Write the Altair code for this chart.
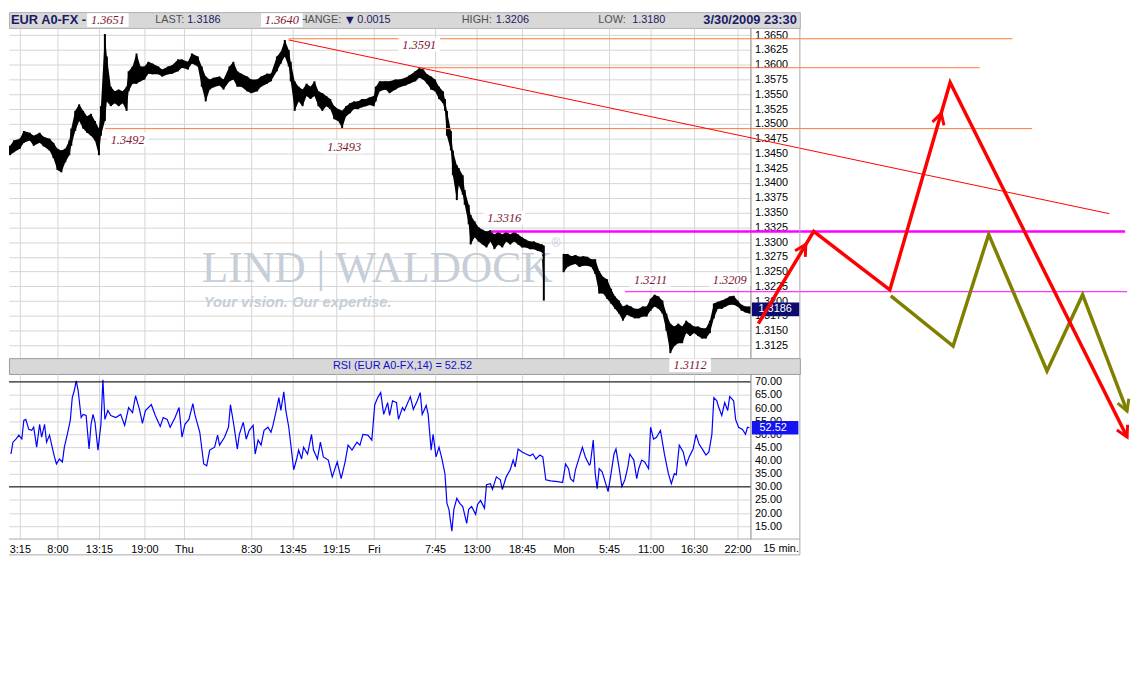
import altair as alt
import pandas as pd

SANS = "Liberation Sans"
SERIF = "Liberation Serif"

# ---------------- price bars (15-min bar index, high, low) ----------------
bar_i = [-5, -3, 0, 2, 5, 7, 10, 12, 15, 17,
         19, 21, 23, 25, 26, 28, 30, 32, 34, 36,
         38, 40, 41, 43, 44, 46, 48, 50, 52, 54,
         55, 57, 59, 61, 63, 65, 67, 70, 72, 75,
         77, 80, 82, 85, 87, 90, 92, 94, 96, 98,
         101, 103, 106, 108, 110, 112, 115, 117, 120, 122,
         125, 127, 130, 132, 134, 136, 137, 139, 141, 143,
         145, 147, 149, 151, 153, 155, 157, 159, 161, 163,
         165, 167, 169, 171, 173, 175, 177, 179, 180, 182,
         185, 187, 190, 192, 195, 197, 200, 202, 204, 206,
         208, 210, 212, 214, 215, 216, 218, 219, 221, 222,
         224, 225, 227, 228, 230, 232, 234, 236, 238, 240,
         242, 244, 246, 248, 250, 252, 254, 256, 258, 260,
         262, 264, 265, 275, 277, 279, 281, 283, 285, 287,
         289, 291, 293, 295, 297, 299, 301, 303, 305, 307,
         309, 311, 313, 315, 317, 319, 321, 323, 325, 327,
         329, 331, 333, 335, 337, 339, 341, 343, 345, 347,
         349, 351, 353, 355, 357, 359, 361, 363, 365, 367,
         369]
bar_hi = [1.3463, 1.3472, 1.3475, 1.3488, 1.3485, 1.3480, 1.3485, 1.3478, 1.3475, 1.3468,
          1.3458, 1.3455, 1.3458, 1.3472, 1.3492, 1.3522, 1.3533, 1.3522, 1.3513, 1.3517,
          1.3505, 1.3492, 1.3530, 1.3652, 1.3614, 1.3563, 1.3555, 1.3558, 1.3555, 1.3563,
          1.3589, 1.3597, 1.3619, 1.3597, 1.3597, 1.3605, 1.3602, 1.3597, 1.3592, 1.3597,
          1.3599, 1.3609, 1.3609, 1.3605, 1.3619, 1.3614, 1.3597, 1.3580, 1.3575, 1.3578,
          1.3580, 1.3575, 1.3597, 1.3605, 1.3589, 1.3585, 1.3580, 1.3575, 1.3575, 1.3580,
          1.3585, 1.3585, 1.3614, 1.3622, 1.3642, 1.3625, 1.3605, 1.3572, 1.3563, 1.3558,
          1.3568, 1.3563, 1.3572, 1.3555, 1.3552, 1.3547, 1.3542, 1.3530, 1.3525, 1.3522,
          1.3530, 1.3535, 1.3538, 1.3538, 1.3542, 1.3542, 1.3545, 1.3547, 1.3563, 1.3572,
          1.3572, 1.3572, 1.3575, 1.3575, 1.3578, 1.3582, 1.3589, 1.3594, 1.3592, 1.3584,
          1.3580, 1.3575, 1.3563, 1.3555, 1.3542, 1.3522, 1.3488, 1.3455, 1.3430, 1.3425,
          1.3413, 1.3388, 1.3363, 1.3346, 1.3335, 1.3325, 1.3321, 1.3318, 1.3320, 1.3313,
          1.3318, 1.3313, 1.3318, 1.3313, 1.3318, 1.3313, 1.3308, 1.3304, 1.3301, 1.3301,
          1.3298, 1.3296, 1.3294, 1.3280, 1.3280, 1.3276, 1.3278, 1.3275, 1.3276, 1.3275,
          1.3271, 1.3271, 1.3251, 1.3241, 1.3237, 1.3221, 1.3208, 1.3201, 1.3191, 1.3194,
          1.3191, 1.3187, 1.3187, 1.3191, 1.3191, 1.3204, 1.3211, 1.3208, 1.3201, 1.3179,
          1.3162, 1.3157, 1.3162, 1.3157, 1.3167, 1.3162, 1.3157, 1.3157, 1.3154, 1.3154,
          1.3167, 1.3196, 1.3199, 1.3201, 1.3204, 1.3208, 1.3209, 1.3201, 1.3194, 1.3191,
          1.3191]
bar_lo = [1.3447, 1.3452, 1.3458, 1.3468, 1.3472, 1.3463, 1.3468, 1.3462, 1.3455, 1.3442,
          1.3422, 1.3418, 1.3435, 1.3447, 1.3463, 1.3488, 1.3505, 1.3492, 1.3485, 1.3480,
          1.3472, 1.3447, 1.3480, 1.3505, 1.3538, 1.3530, 1.3535, 1.3530, 1.3535, 1.3522,
          1.3555, 1.3568, 1.3568, 1.3572, 1.3575, 1.3585, 1.3584, 1.3584, 1.3580, 1.3584,
          1.3585, 1.3589, 1.3595, 1.3592, 1.3602, 1.3597, 1.3563, 1.3538, 1.3558, 1.3562,
          1.3565, 1.3558, 1.3572, 1.3575, 1.3563, 1.3563, 1.3555, 1.3552, 1.3555, 1.3563,
          1.3568, 1.3572, 1.3589, 1.3602, 1.3614, 1.3597, 1.3572, 1.3522, 1.3538, 1.3530,
          1.3547, 1.3542, 1.3547, 1.3530, 1.3522, 1.3530, 1.3525, 1.3508, 1.3505, 1.3493,
          1.3513, 1.3518, 1.3525, 1.3525, 1.3528, 1.3530, 1.3532, 1.3530, 1.3538, 1.3555,
          1.3558, 1.3552, 1.3558, 1.3562, 1.3565, 1.3568, 1.3572, 1.3578, 1.3575, 1.3568,
          1.3558, 1.3555, 1.3542, 1.3535, 1.3522, 1.3480, 1.3455, 1.3413, 1.3371, 1.3396,
          1.3380, 1.3363, 1.3330, 1.3296, 1.3308, 1.3301, 1.3296, 1.3291, 1.3301, 1.3288,
          1.3296, 1.3291, 1.3301, 1.3296, 1.3301, 1.3296, 1.3291, 1.3291, 1.3288, 1.3288,
          1.3285, 1.3283, 1.3201, 1.3249, 1.3258, 1.3261, 1.3263, 1.3258, 1.3260, 1.3260,
          1.3258, 1.3246, 1.3213, 1.3213, 1.3204, 1.3196, 1.3187, 1.3179, 1.3167, 1.3177,
          1.3174, 1.3171, 1.3171, 1.3174, 1.3174, 1.3184, 1.3191, 1.3187, 1.3179, 1.3150,
          1.3112, 1.3124, 1.3129, 1.3129, 1.3146, 1.3141, 1.3146, 1.3141, 1.3137, 1.3137,
          1.3146, 1.3171, 1.3187, 1.3187, 1.3191, 1.3194, 1.3194, 1.3191, 1.3184, 1.3181,
          1.3179]

# ---------------- RSI(14) ----------------
rsi_i = [-4.5, -3.5, -2, -0.5, 1, 2, 3, 4.5, 6, 7,
         8.5, 10, 11, 12.5, 13.5, 15, 16, 17.5, 18.5, 20,
         21.5, 22.5, 24, 25.5, 26.5, 27.5, 28.5, 29.5, 31, 32,
         33.5, 35, 36, 37, 38, 39.5, 41, 42, 43, 44.5,
         46, 48.5, 51, 53, 55, 57, 58.5, 60.5, 62, 63.5,
         66.5, 68.5, 71, 72.5, 74.5, 76, 78.5, 80.5, 82, 83.5,
         85.5, 87.5, 88.5, 91, 93, 94.5, 96, 98.5, 100, 101,
         103.5, 105.5, 106.5, 108, 110, 111, 113, 114.5, 116, 118,
         119, 120.5, 122, 123.5, 125.5, 127, 128, 130, 131, 132,
         133.5, 134.5, 136, 137, 138.5, 140, 141, 142.5, 143.5, 145.5,
         147.5, 148.5, 150.5, 152, 153.5, 156, 158, 160.5, 162.5, 164.5,
         166, 168, 170.5, 172, 173.5, 176, 178, 179.5, 181, 182.5,
         184, 186, 187, 188.5, 190.5, 191.5, 193.5, 194.5, 197.5, 199,
         201, 202.5, 203.5, 205.5, 206.5, 208, 209, 210.5, 212, 213.5,
         215, 216, 217, 218.5, 219.5, 221, 222.5, 224, 226, 227,
         228.5, 230.5, 231.5, 233, 235, 236, 238, 239, 241, 243,
         244, 246, 248, 249.5, 250.5, 252, 254, 256, 258, 259.5,
         261, 263, 264.5, 266, 268.5, 272, 274.5, 276, 277.5, 278.5,
         280, 281, 282.5, 284.5, 286, 288, 288.5, 290, 291, 292,
         293, 294.5, 296, 297.5, 299, 300.5, 301.5, 303, 304.5, 306,
         307.5, 308.5, 310.5, 312, 313, 314.5, 316, 318, 319, 320.5,
         322, 324, 326, 328, 329.5, 331, 332, 333.5, 335.5, 337,
         338.5, 340.5, 342, 343.5, 345.5, 347, 348.5, 350, 351, 352.5,
         353.5, 355, 356.5, 358, 359, 361, 362, 363.5, 365.5, 367,
         368, 369]
rsi_v = [42.5, 47, 48.2, 49.7, 48.2, 55.3, 55.7, 51.9, 51.5, 52.7,
         45.1, 53.8, 48.9, 53.8, 47, 49.7, 46.3, 41.4, 38.7, 40.6,
         39.5, 45.1, 50, 55.3, 64, 66.6, 70.4, 66.6, 56.4, 57.6,
         57.2, 44.4, 53.8, 57.6, 54.6, 44, 53.8, 70.8, 55.7, 59.1,
         57.2, 56.4, 57.6, 53.4, 60.2, 58.3, 64.7, 59.5, 54.2, 59.1,
         61.3, 57.2, 53, 56.4, 55.7, 52.7, 56.4, 60.2, 48.9, 53.8,
         55.7, 61.7, 57.6, 50.8, 38.7, 38, 44, 45.1, 49.7, 45.9,
         48.9, 52.7, 61.3, 54.6, 44.4, 50, 54.6, 48.2, 51.5, 53.4,
         42.5, 47.8, 45.9, 51.5, 52.7, 50.8, 53.4, 60.2, 64, 59.1,
         66.2, 59.1, 52.7, 46.3, 36.5, 40.6, 44, 40.6, 45.1, 42.5,
         50, 44, 40.6, 47, 41.4, 40.2, 33.8, 39.5, 33.1, 39.5,
         45.9, 44, 47, 45.9, 50, 49.7, 47.8, 61.3, 64, 65.9,
         57.6, 62.1, 57.2, 62.8, 62.1, 55.7, 60.2, 59.1, 64.4, 59.5,
         62.8, 65.9, 57.6, 61, 57.6, 44, 50, 41.4, 45.1, 40.6,
         35, 23.7, 21.4, 13.1, 21.4, 25.6, 23.7, 22.5, 16.1, 21.4,
         22.5, 19.5, 23.3, 24.8, 21.8, 30.8, 31.2, 29, 33.8, 32.7,
         29, 33.8, 36.5, 40.2, 37.6, 44.4, 43.3, 42.5, 41.8, 42.5,
         40.6, 42.1, 41.4, 32.7, 32.3, 32, 31.6, 38.7, 36.9, 33.1,
         32, 36.5, 40.2, 45.1, 41.4, 38.3, 38.7, 47.8, 35, 29.3,
         36.9, 35.7, 32, 28.2, 35, 42.5, 44.4, 37.6, 30.1, 32.7,
         37.6, 42.5, 40.2, 33.1, 36.9, 40.2, 39.5, 36.9, 52.7, 48.2,
         48.9, 51.5, 42.5, 35, 31.2, 35, 34.6, 45.9, 43.3, 38.3,
         41.4, 44.4, 50, 46.3, 44, 42.1, 43.3, 50, 64, 62.8,
         60.2, 57.2, 62.1, 59.1, 64.4, 62.8, 55.7, 52.7, 51.9, 50,
         52.7, 52.5]

# ---------------- axes ----------------
tick_bars = [0, 19, 40, 63, 83, 117, 138, 160, 179, 210, 231, 254, 275, 298, 319, 341, 363]
tick_text = ["3:15", "8:00", "13:15", "19:00", "Thu", "8:30", "13:45", "19:15", "Fri",
             "7:45", "13:00", "18:45", "Mon", "5:45", "11:00", "16:30", "22:00"]
price_ticks = [1.3125, 1.3150, 1.3175, 1.3200, 1.3225, 1.3250, 1.3275, 1.3300, 1.3325, 1.3350,
               1.3375, 1.3400, 1.3425, 1.3450, 1.3475, 1.3500, 1.3525, 1.3550, 1.3575, 1.3600,
               1.3625, 1.3650]
rsi_ticks = [15, 20, 25, 30, 35, 40, 45, 50, 55, 60, 65, 70]
rsi_bands = [70, 30]

# ---------------- drawn levels / projections ----------------
orange_p = [1.3644, 1.3595, 1.3492]
orange_from = [136, 202, 43]
orange_to = [502, 485.5, 512]
trend_i = [136, 551]
trend_p = [1.3642, 1.3348]
mag_p = [1.3318, 1.3216]
mag_from = [238.5, 306]
mag_to = [559, 560]
red_i = [373.5, 401.5, 440, 470.5, 560]
red_p = [1.3162, 1.3318, 1.3219, 1.3570, 1.2970]
olive_i = [440.5, 472, 490, 519.5, 537.5, 560]
olive_p = [1.3209, 1.3124, 1.3313, 1.3082, 1.3211, 1.3014]
red_head_i = [397.5, 466, 560]
red_head_p = [1.3296, 1.3518, 1.2970]
red_head_ang = [31, 16, 153.5]
olive_head_i = [560]
olive_head_p = [1.3014]
olive_head_ang = [159]

ann_text = ["1.3651", "1.3640", "1.3591", "1.3492", "1.3493", "1.3316", "1.3211", "1.3209"]
ann_i = [44.5, 132.5, 202, 54.5, 164, 245, 319, 359]
ann_p = [1.36756, 1.36756, 1.3634, 1.34732, 1.34615, 1.33411, 1.32358, 1.32358]
low_text = ["1.3112"]
low_i = [339]
last_price = [1.3186]
last_rsi = [52.52]

# ---------------- frames ----------------
price_df = pd.DataFrame({"i": bar_i, "hi": bar_hi, "lo": bar_lo,
                         "seg": ["a" if v < 270 else "b" for v in bar_i]})
rsi_df = pd.DataFrame({"i": rsi_i, "v": rsi_v})
one = pd.DataFrame({"k": [0]})

GRID = "#d4d4d4"
xs = alt.Scale(domain=[-5.5, 369.5], nice=False, zero=False)
ps = alt.Scale(domain=[1.31036, 1.36623], nice=False, zero=False)
rs = alt.Scale(domain=[10.1, 73.01], nice=False, zero=False)

x_grid_axis = alt.Axis(values=tick_bars, labels=False, ticks=False, domain=False, grid=True,
                       gridColor=GRID, title=None)
p_axis = alt.Axis(orient="right", values=price_ticks, format=".4f", grid=True, gridColor=GRID,
                  ticks=False, domain=True, domainColor="#7f7f7f", labelFont=SANS, labelFontSize=11,
                  labelColor="black", labelPadding=4, labelOverlap=False, labelFlush=False, title=None)


def PX(f):
    return alt.X(f + ":Q", scale=xs, axis=x_grid_axis)


def PY(f):
    return alt.Y(f + ":Q", scale=ps, axis=p_axis)


RECT = "M-1,-0.29L1,-0.29L1,0.29L-1,0.29Z"
BOX = "M-1,-0.33L1,-0.33L1,0.33L-1,0.33Z"
CHEVRON = "M-0.55,1L0,0L0.55,1"

wm_color = "#c6ced8"
watermark = alt.layer(
    alt.Chart(one).mark_text(text="LIND | WALDOCK", font=SERIF, fontSize=44, color=wm_color,
                             align="left", baseline="alphabetic").encode(x=alt.value(195), y=alt.value(257)),
    alt.Chart(one).mark_text(text="®", font=SANS, fontSize=12, color=wm_color,
                             align="left", baseline="alphabetic").encode(x=alt.value(549), y=alt.value(222)),
    alt.Chart(one).mark_text(text="Your vision. Our expertise.", font=SANS, fontSize=15,
                             fontStyle="italic", fontWeight="bold", color=wm_color,
                             align="left", baseline="alphabetic").encode(x=alt.value(197), y=alt.value(282)),
)

band = alt.Chart(price_df).mark_area(color="black", opacity=1).encode(
    x=PX("i"), y=PY("hi"), y2=alt.Y2("lo"), detail="seg:N")
bars = alt.Chart(price_df).mark_rule(color="black", strokeWidth=2).encode(
    x=PX("i"), y=PY("hi"), y2=alt.Y2("lo"))

orange = alt.Chart(pd.DataFrame({"p": orange_p, "a": orange_from, "b": orange_to})).mark_rule(
    color="#ff7a3a", strokeWidth=1).encode(x=PX("a"), x2=alt.X2("b"), y=PY("p"))
trend = alt.Chart(pd.DataFrame({"i": trend_i, "p": trend_p})).mark_line(
    color="#ff0000", strokeWidth=1).encode(x=PX("i"), y=PY("p"))
mag_thick = alt.Chart(pd.DataFrame({"p": mag_p[:1], "a": mag_from[:1], "b": mag_to[:1]})).mark_rule(
    color="#ff00ff", strokeWidth=2.5).encode(x=PX("a"), x2=alt.X2("b"), y=PY("p"))
mag_thin = alt.Chart(pd.DataFrame({"p": mag_p[1:], "a": mag_from[1:], "b": mag_to[1:]})).mark_rule(
    color="#ff00ff", strokeWidth=1).encode(x=PX("a"), x2=alt.X2("b"), y=PY("p"))

ann_df = pd.DataFrame({"t": ann_text, "i": ann_i, "p": ann_p})
ann_box = alt.Chart(ann_df).mark_point(shape=BOX, size=1764, filled=True, fill="white",
                                       strokeWidth=0, opacity=1).encode(x=PX("i"), y=PY("p"))
ann_txt = alt.Chart(ann_df).mark_text(font=SERIF, fontStyle="italic", fontSize=12.5,
                                      color="#7d1530").encode(x=PX("i"), y=PY("p"), text="t:N")

tag_df = pd.DataFrame({"p": last_price, "t": ["%.4f" % v for v in last_price]})
tag_box = alt.Chart(tag_df).mark_point(shape=RECT, size=2304, filled=True, fill="#0c0c70",
                                       strokeWidth=0, opacity=1).encode(x=alt.value(775.5), y=PY("p"))
tag_txt = alt.Chart(tag_df).mark_text(font=SANS, fontSize=11, color="white").encode(
    x=alt.value(775), y=PY("p"), text="t:N")

red_path = alt.Chart(pd.DataFrame({"i": red_i, "p": red_p, "k": list(range(len(red_i)))})).mark_line(
    color="#ff0000", strokeWidth=3.5).encode(x=PX("i"), y=PY("p"), order="k:Q")
olive_path = alt.Chart(pd.DataFrame({"i": olive_i, "p": olive_p, "k": list(range(len(olive_i)))})).mark_line(
    color="#808000", strokeWidth=3.5).encode(x=PX("i"), y=PY("p"), order="k:Q")
red_heads = alt.Chart(pd.DataFrame({"i": red_head_i, "p": red_head_p, "a": red_head_ang})).mark_point(
    shape=CHEVRON, size=484, filled=False, strokeWidth=3, color="#ff0000", opacity=1).encode(
    x=PX("i"), y=PY("p"), angle=alt.Angle("a:Q", scale=None))
olive_heads = alt.Chart(pd.DataFrame({"i": olive_head_i, "p": olive_head_p, "a": olive_head_ang})).mark_point(
    shape=CHEVRON, size=484, filled=False, strokeWidth=3, color="#808000", opacity=1).encode(
    x=PX("i"), y=PY("p"), angle=alt.Angle("a:Q", scale=None))

price_frame = alt.Chart(one).mark_rule(color="#a8a8a8").encode(
    x=alt.value(800), y=alt.value(0), y2=alt.value(334))

price = alt.layer(band, watermark, bars, orange, trend, mag_thick, mag_thin, ann_box, ann_txt,
                  tag_box, tag_txt, price_frame, olive_path, red_path, olive_heads, red_heads
                  ).properties(width=750, height=334)

# ---------------- RSI panel ----------------
label_expr = "[" + ",".join("'%s'" % t for t in tick_text) + "][indexof([" + \
             ",".join(str(b) for b in tick_bars) + "], datum.value)]"
x_bottom = alt.Axis(orient="bottom", values=tick_bars, labelExpr=label_expr, grid=True, gridColor=GRID,
                    ticks=False, domain=False, labelFont=SANS, labelFontSize=11, labelColor="black",
                    labelPadding=5, labelOverlap=False, labelFlush=False, title=None)
r_axis = alt.Axis(orient="right", values=rsi_ticks, format=".2f", grid=True, gridColor=GRID,
                  ticks=False, domain=True, domainColor="#7f7f7f", labelFont=SANS, labelFontSize=11,
                  labelColor="black", labelPadding=4, labelOverlap=False, labelFlush=False, title=None)


def RX(f):
    return alt.X(f + ":Q", scale=xs, axis=x_bottom)


def RY(f):
    return alt.Y(f + ":Q", scale=rs, axis=r_axis)


rsi_line = alt.Chart(rsi_df).mark_line(color="#0000ff", strokeWidth=1.2).encode(x=RX("i"), y=RY("v"))
rsi_lv = alt.Chart(pd.DataFrame({"v": rsi_bands})).mark_rule(color="black", strokeWidth=1).encode(y=RY("v"))
rtag_df = pd.DataFrame({"v": last_rsi, "t": ["%.2f" % v for v in last_rsi]})
rtag_box = alt.Chart(rtag_df).mark_point(shape=RECT, size=2209, filled=True, fill="#1414f0",
                                         strokeWidth=0, opacity=1).encode(x=alt.value(775), y=RY("v"))
rtag_txt = alt.Chart(rtag_df).mark_text(font=SANS, fontSize=11, color="white").encode(
    x=alt.value(773), y=RY("v"), text="t:N")
min_txt = alt.Chart(one).mark_text(text="15 min.", font=SANS, fontSize=11, color="black",
                                   align="left").encode(x=alt.value(763), y=alt.value(177))
r_frame = alt.layer(
    alt.Chart(one).mark_rule(color="#a8a8a8").encode(x=alt.value(0), x2=alt.value(800), y=alt.value(167)),
    alt.Chart(one).mark_rule(color="#a8a8a8").encode(x=alt.value(0), x2=alt.value(800), y=alt.value(183)),
    alt.Chart(one).mark_rule(color="#a8a8a8").encode(x=alt.value(800), y=alt.value(0), y2=alt.value(183)),
)
rsi = alt.layer(rsi_line, rsi_lv, rtag_box, rtag_txt, min_txt, r_frame).properties(width=750, height=167)

# ---------------- header bars ----------------
NAVY = "#1a1a66"
GREYTXT = "#505050"


def htext(txt, x, align="left", size=11, color=NAVY, weight="normal", font=SANS):
    return alt.Chart(one).mark_text(text=txt, align=align, baseline="middle", font=font, fontSize=size,
                                    fontWeight=weight, color=color).encode(x=alt.value(x), y=alt.value(8))


top = alt.layer(
    htext("EUR A0-FX - EU", 2, size=13, weight="bold"),
    htext("LAST:", 148, color=GREYTXT), htext("1.3186", 214, align="right"),
    htext("HANGE:", 294, color=GREYTXT), htext("▼", 341, size=10, font="DejaVu Sans"),
    htext("0.0015", 386, align="right"),
    htext("HIGH:", 458, color=GREYTXT), htext("1.3206", 526, align="right"),
    htext("LOW:", 596, color=GREYTXT), htext("1.3180", 664, align="right"),
    htext("3/30/2009 23:30", 797, align="right", size=13, weight="bold"),
).properties(width=800, height=16,
             view=alt.ViewBackground(fill="#d8d8d8", stroke="#b0b0b0", strokeWidth=1))

hs = alt.Scale(domain=[-5.5, 394.5], nice=False, zero=False)
low_df = pd.DataFrame({"i": low_i, "t": low_text})
rsi_head = alt.layer(
    alt.Chart(one).mark_text(text="RSI (EUR A0-FX,14) = 52.52", font=SANS, fontSize=11, color="#1010d0",
                             align="center", baseline="middle").encode(x=alt.value(398), y=alt.value(8)),
    alt.Chart(low_df).mark_point(shape=BOX, size=1764, filled=True, fill="white", strokeWidth=0,
                                 opacity=1).encode(x=alt.X("i:Q", scale=hs, axis=None), y=alt.value(7)),
    alt.Chart(low_df).mark_text(font=SERIF, fontStyle="italic", fontSize=12.5, color="#7d1530",
                                baseline="middle").encode(x=alt.X("i:Q", scale=hs, axis=None),
                                                          y=alt.value(7), text="t:N"),
).properties(width=800, height=16,
             view=alt.ViewBackground(fill="#d8d8d8", stroke="#9a9a9a", strokeWidth=1))

chart = alt.vconcat(top, price, rsi_head, rsi, spacing=0, bounds="flush").properties(
    padding=0, background="white").configure_view(strokeWidth=0)

chart.save("out.html", embed_options={"renderer": "svg", "actions": False})
